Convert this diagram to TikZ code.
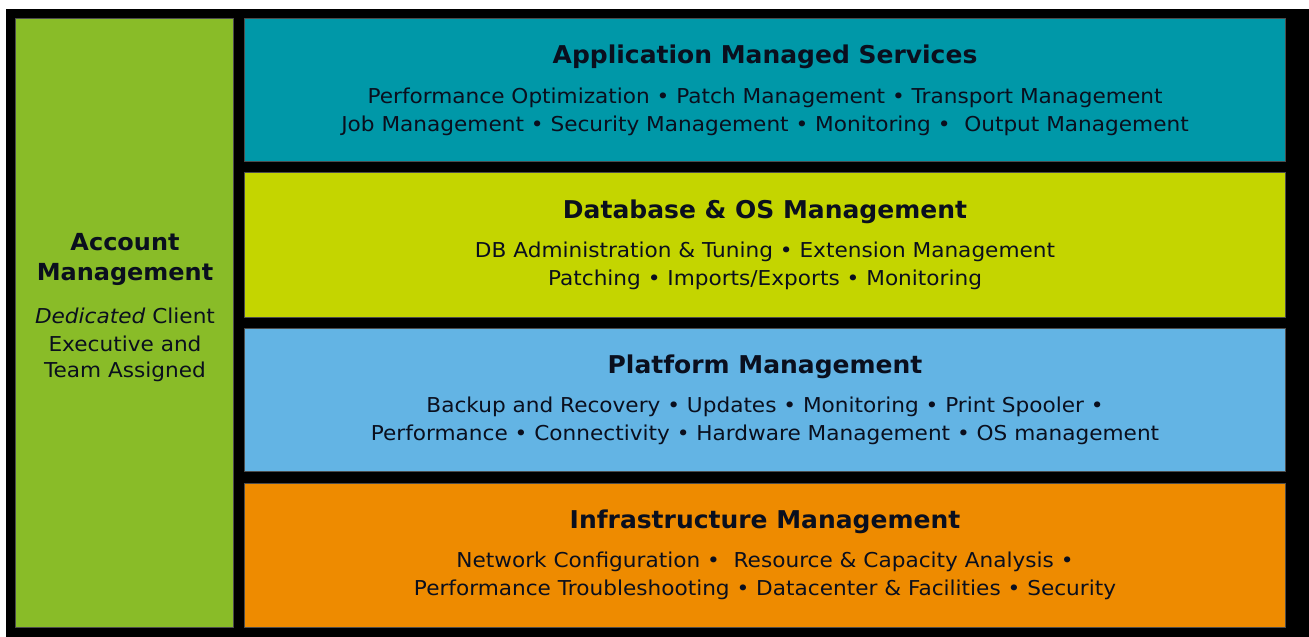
\documentclass[tikz,border=0pt]{standalone}
\usepackage{fontspec}
\setmainfont{DejaVu Sans}
\newfontfamily\ttlfont[FakeStretch=1.02]{DejaVu Sans}
\newfontfamily\bodyfont[FakeStretch=1.055]{DejaVu Sans}
\definecolor{accgreen}{HTML}{89BC28}
\definecolor{appteal}{HTML}{0098A8}
\definecolor{dbyellow}{HTML}{C4D500}
\definecolor{platblue}{HTML}{63B4E4}
\definecolor{infraorange}{HTML}{EE8B00}
\definecolor{txt}{HTML}{0A0F1E}
\tikzset{
  band/.style={draw=black!70, line width=0.8pt},
  ttl/.style={font=\ttlfont\fontsize{24.5}{28}\selectfont\bfseries, text=txt, anchor=center, inner sep=0},
  accttl/.style={font=\ttlfont\fontsize{23.5}{27}\selectfont\bfseries, text=txt, anchor=center, inner sep=0},
  body/.style={font=\bodyfont\fontsize{20.5}{24}\selectfont, text=txt, anchor=center, inner sep=0},
}
\begin{document}
\begin{tikzpicture}[x=1pt,y=-1pt]
\useasboundingbox (0,0) rectangle (1309,637);
\fill[white] (0,0) rectangle (1309,637);
\fill[black] (6,9) rectangle (1309,637);
% bands
\filldraw[band, fill=accgreen] (15,18) rectangle (233,627);
\filldraw[band, fill=appteal] (244,18) rectangle (1285,161);
\filldraw[band, fill=dbyellow] (244,172) rectangle (1285,317);
\filldraw[band, fill=platblue] (244,328) rectangle (1285,471);
\filldraw[band, fill=infraorange] (244,483) rectangle (1285,627);
% account management
\node[accttl] (acc1) at (125,242) {Account};
\node[accttl] (acc2) at (125,274) {Management};
\node[body] (acc3) at (125,316) {\textit{Dedicated} Client};
\node[body] (acc4) at (125,344) {Executive and};
\node[body] (acc5) at (125,372) {Team Assigned};
% application
\node[ttl] (app) at (765,57) {Application Managed Services};
\node[body] (app1) at (765,98) {Performance Optimization • Patch Management • Transport Management};
\node[body] (app2) at (765,126) {Job Management • Security Management • Monitoring •\ \ Output Management};
% database
\node[ttl] (db) at (765,212) {Database \& OS Management};
\node[body] (db1) at (765,252) {DB Administration \& Tuning • Extension Management};
\node[body] (db2) at (765,280) {Patching • Imports/Exports • Monitoring};
% platform
\node[ttl] (pl) at (765,367) {Platform Management};
\node[body] (pl1) at (765,407) {Backup and Recovery • Updates • Monitoring • Print Spooler •};
\node[body] (pl2) at (765,435) {Performance • Connectivity • Hardware Management • OS management};
% infrastructure
\node[ttl] (inf) at (765,522) {Infrastructure Management};
\node[body] (inf1) at (765,562) {Network Configuration •\ \ Resource \& Capacity Analysis •};
\node[body] (inf2) at (765,590) {Performance Troubleshooting • Datacenter \& Facilities • Security};
\end{tikzpicture}
\end{document}
